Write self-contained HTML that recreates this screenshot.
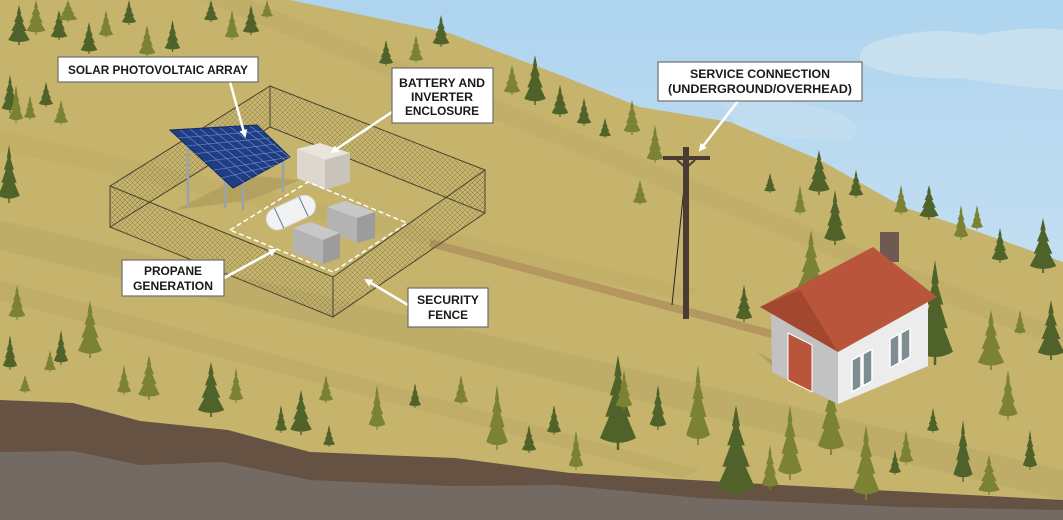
<!DOCTYPE html>
<html><head><meta charset="utf-8"><style>
html,body{margin:0;padding:0;width:1063px;height:520px;overflow:hidden;background:#c6b46c}
svg{display:block}
.lb{font-family:"Liberation Sans",sans-serif;font-weight:bold;font-size:12px;fill:#1a1a1a;text-anchor:middle}
</style></head><body>
<svg width="1063" height="520" viewBox="0 0 1063 520" xmlns="http://www.w3.org/2000/svg">
<defs>
<linearGradient id="sky" x1="0" y1="0" x2="0" y2="1"><stop offset="0" stop-color="#aed4ef"/><stop offset="1" stop-color="#d7e9f4"/></linearGradient>
<symbol id="t" viewBox="0 0 20 40" preserveAspectRatio="none" overflow="visible"><path d="M10 0 L12.5 9 L11.5 9 L15.5 17 L13.5 17 L18.5 26 L16 26 L22 35 Q10 39 -2 35 L4 26 L1.5 26 L6.5 17 L4.5 17 L8.5 9 L7.5 9 Z M9.2 35 L10.8 35 L10.8 40 L9.2 40 Z"/></symbol>
<pattern id="mesh" width="5" height="5" patternUnits="userSpaceOnUse"><path d="M0 0L5 5M5 0L0 5" stroke="#6b6140" stroke-width="0.5" opacity="0.6"/></pattern>
<marker id="ah" markerWidth="8" markerHeight="8" refX="6" refY="4" orient="auto" markerUnits="userSpaceOnUse"><path d="M0 0L8 4L0 8Z" fill="#fff"/></marker>
</defs>
<rect width="1063" height="520" fill="url(#sky)"/>
<path d="M880 40 Q930 25 980 35 Q1030 25 1063 30 L1063 90 Q1000 85 960 78 Q900 80 865 65 Q850 50 880 40Z" fill="#cde2ee" opacity="0.8"/>
<path d="M720 100 Q780 95 830 110 Q870 125 850 140 Q790 140 740 130Z" fill="#c8dfee" opacity="0.6"/>
<path d="M290 0 L449 33 L560 75 L640 107 L730 122 L820 160 L903 207 L973 230 L1063 262 L1063 520 L0 520 L0 0Z" fill="#c6b46c"/>
<path d="M0 220 L1063 470 L1063 500 L0 250Z" fill="#bba966" opacity="0.7"/>
<path d="M0 280 L700 470 L680 478 L0 300Z" fill="#bba966" opacity="0.6"/>
<path d="M250 0 L1063 330 L1063 350 L200 0Z" fill="#bba966" opacity="0.45"/>
<path d="M0 130 L700 290 L680 300 L0 150Z" fill="#bba966" opacity="0.4"/>
<path d="M0 400 L73 403 L140 421 L228 430 L310 452 L455 458 L570 473 L780 485 L1063 500 L1063 520 L0 520Z" fill="#655243"/>
<path d="M0 452 L73 451 L140 465 L222 462 L310 480 L450 486 L560 485 L700 498 L900 507 L1063 510 L1063 520 L0 520Z" fill="#736a63"/>
<path d="M430 243 L772 334" stroke="#b39660" stroke-width="8" fill="none"/>
<g id="trees">
<g fill="#4f6229">
<use href="#t" x="10" y="5" width="18" height="40"/><use href="#t" x="52" y="10" width="14" height="30"/><use href="#t" x="82" y="22" width="14" height="32"/><use href="#t" x="123" y="0" width="12" height="25"/><use href="#t" x="166" y="20" width="13" height="32"/><use href="#t" x="205" y="0" width="12" height="22"/><use href="#t" x="244" y="5" width="14" height="30"/><use href="#t" x="3" y="75" width="14" height="38"/><use href="#t" x="40" y="82" width="12" height="25"/><use href="#t" x="0" y="145" width="18" height="58"/><use href="#t" x="380" y="40" width="12" height="26"/><use href="#t" x="434" y="15" width="14" height="32"/><use href="#t" x="526" y="55" width="18" height="50"/><use href="#t" x="553" y="85" width="14" height="32"/><use href="#t" x="578" y="98" width="12" height="28"/><use href="#t" x="600" y="118" width="10" height="20"/><use href="#t" x="765" y="173" width="10" height="20"/><use href="#t" x="810" y="150" width="18" height="45"/><use href="#t" x="826" y="190" width="18" height="55"/><use href="#t" x="850" y="170" width="12" height="28"/><use href="#t" x="921" y="185" width="16" height="35"/><use href="#t" x="993" y="228" width="14" height="35"/><use href="#t" x="1032" y="218" width="22" height="55"/><use href="#t" x="737" y="285" width="14" height="37"/><use href="#t" x="920" y="260" width="30" height="105"/><use href="#t" x="1040" y="300" width="22" height="60"/><use href="#t" x="4" y="335" width="12" height="35"/><use href="#t" x="55" y="330" width="12" height="35"/><use href="#t" x="200" y="362" width="22" height="55"/><use href="#t" x="292" y="390" width="18" height="45"/><use href="#t" x="276" y="405" width="10" height="28"/><use href="#t" x="324" y="425" width="10" height="22"/><use href="#t" x="410" y="383" width="10" height="25"/><use href="#t" x="523" y="425" width="12" height="28"/><use href="#t" x="548" y="405" width="12" height="30"/><use href="#t" x="603" y="355" width="30" height="95"/><use href="#t" x="651" y="385" width="14" height="45"/><use href="#t" x="720" y="405" width="32" height="95"/><use href="#t" x="928" y="408" width="10" height="25"/><use href="#t" x="955" y="420" width="16" height="62"/><use href="#t" x="1024" y="430" width="12" height="40"/><use href="#t" x="890" y="450" width="10" height="25"/>
</g>
<g fill="#7c8233">
<use href="#t" x="28" y="0" width="16" height="35"/><use href="#t" x="60" y="0" width="16" height="22"/><use href="#t" x="100" y="10" width="12" height="28"/><use href="#t" x="140" y="25" width="14" height="32"/><use href="#t" x="226" y="10" width="12" height="30"/><use href="#t" x="262" y="0" width="10" height="18"/><use href="#t" x="10" y="85" width="12" height="38"/><use href="#t" x="25" y="95" width="10" height="25"/><use href="#t" x="55" y="100" width="12" height="25"/><use href="#t" x="410" y="35" width="12" height="28"/><use href="#t" x="455" y="80" width="10" height="20"/><use href="#t" x="505" y="65" width="14" height="30"/><use href="#t" x="625" y="100" width="14" height="35"/><use href="#t" x="648" y="125" width="14" height="38"/><use href="#t" x="634" y="180" width="12" height="25"/><use href="#t" x="795" y="185" width="10" height="30"/><use href="#t" x="895" y="185" width="12" height="30"/><use href="#t" x="955" y="205" width="12" height="35"/><use href="#t" x="972" y="205" width="10" height="25"/><use href="#t" x="800" y="230" width="22" height="65"/><use href="#t" x="980" y="310" width="22" height="60"/><use href="#t" x="1015" y="310" width="10" height="25"/><use href="#t" x="10" y="285" width="14" height="35"/><use href="#t" x="80" y="300" width="20" height="58"/><use href="#t" x="45" y="350" width="10" height="22"/><use href="#t" x="140" y="355" width="18" height="45"/><use href="#t" x="20" y="375" width="10" height="18"/><use href="#t" x="118" y="365" width="12" height="30"/><use href="#t" x="230" y="368" width="12" height="35"/><use href="#t" x="320" y="375" width="12" height="28"/><use href="#t" x="370" y="385" width="14" height="45"/><use href="#t" x="455" y="375" width="12" height="30"/><use href="#t" x="488" y="385" width="18" height="65"/><use href="#t" x="570" y="430" width="12" height="40"/><use href="#t" x="617" y="370" width="14" height="40"/><use href="#t" x="688" y="365" width="20" height="80"/><use href="#t" x="763" y="445" width="14" height="45"/><use href="#t" x="780" y="405" width="20" height="75"/><use href="#t" x="820" y="380" width="22" height="75"/><use href="#t" x="855" y="425" width="22" height="75"/><use href="#t" x="900" y="430" width="12" height="35"/><use href="#t" x="980" y="455" width="18" height="40"/><use href="#t" x="1000" y="370" width="16" height="50"/>
</g>
</g>
<path d="M110 186 L270 86 L270 127 L110 227Z" fill="url(#mesh)" stroke="#4a4530" stroke-width="1"/>
<path d="M270 86 L485 170 L485 213 L270 127Z" fill="url(#mesh)" stroke="#4a4530" stroke-width="1"/>
<path d="M175 210 L250 200 L300 180 L245 175Z" fill="#a89858" opacity="0.6"/>
<g stroke="#9aa2aa" stroke-width="2.5"><line x1="188" y1="145" x2="188" y2="208"/><line x1="225" y1="170" x2="225" y2="208"/><line x1="243" y1="178" x2="243" y2="210"/><line x1="283" y1="153" x2="283" y2="192"/></g>
<path d="M170 130 L257 125 L290 157 L233 188Z" fill="#1f3d85" stroke="#142a5e"/>
<g stroke="#8fa7d6" stroke-width="0.6" opacity="0.8">
<path d="M178 138L263 131M186 146L270 138M193 154L276 144M201 162L283 151M209 171L290 157M217 179L276 165"/>
<path d="M180 130L245 183M190 129L252 179M200 129L259 176M210 128L266 172M220 128L272 168M230 127L279 164M240 126L285 160M250 126L289 157"/>
</g>
<path d="M297 149 L320 143 L350 153 L325 160Z" fill="#e8e5dd"/>
<path d="M297 149 L325 160 L325 190 L297 178Z" fill="#dcd8ce"/>
<path d="M325 160 L350 153 L350 182 L325 190Z" fill="#c8c4ba"/>
<path d="M230 230 L308 182 L407 223 L333 272Z" fill="none" stroke="#fff" stroke-width="1.5" stroke-dasharray="5,3"/>
<g transform="rotate(-25 290 213)"><rect x="265" y="202" width="52" height="22" rx="11" fill="#f2f2f2" stroke="#d6d6d6"/><line x1="278" y1="202" x2="278" y2="224" stroke="#5a7ba0"/><line x1="305" y1="202" x2="305" y2="224" stroke="#5a7ba0"/></g>
<path d="M327 207 L345 201 L375 212 L357 218Z" fill="#c8c8c8"/><path d="M327 207 L357 218 L357 243 L327 230Z" fill="#b3b3b3"/><path d="M357 218 L375 212 L375 238 L357 243Z" fill="#9c9c9c"/>
<path d="M293 228 L310 222 L340 233 L323 240Z" fill="#c8c8c8"/><path d="M293 228 L323 240 L323 264 L293 252Z" fill="#b3b3b3"/><path d="M323 240 L340 233 L340 258 L323 264Z" fill="#9c9c9c"/>
<path d="M110 186 L333 277 L333 317 L110 227Z" fill="url(#mesh)" stroke="#4a4530" stroke-width="1"/>
<path d="M333 277 L485 170 L485 213 L333 317Z" fill="url(#mesh)" stroke="#4a4530" stroke-width="1"/>
<line x1="686" y1="168" x2="672" y2="305" stroke="#2b241f" stroke-width="1"/>
<rect x="683" y="147" width="6" height="172" fill="#4a3c33"/>
<rect x="663" y="156" width="47" height="4" fill="#4a3c33"/>
<path d="M677 160 L686 168 L695 160" stroke="#4a3c33" stroke-width="2" fill="none"/>
<!-- house -->
<path d="M757 352 L788 380 L840 405 L810 380Z" fill="#a99a5e" opacity="0.8"/>
<path d="M771 308 L800 290 L838 350 L838 404 L772 372Z" fill="#c2c2c2"/>
<path d="M838 350 L928 300 L928 366 L838 404Z" fill="#ececec"/>
<path d="M788 333 L812 345 L812 392 L788 380Z" fill="#b8553a" stroke="#fff" stroke-width="1"/>
<g fill="#7e8d90" stroke="#fff" stroke-width="1.5"><path d="M852 360 L861 355 L861 387 L852 392Z"/><path d="M863 354 L872 349 L872 381 L863 386Z"/><path d="M890 339 L899 334 L899 363 L890 368Z"/><path d="M901 333 L910 328 L910 357 L901 362Z"/></g>
<rect x="880" y="232" width="19" height="30" fill="#6e5a52"/>
<path d="M760 307 L873 247 L937 297 L838 352Z" fill="#b8553a"/>
<path d="M760 307 L800 290 L838 352Z" fill="#963d28" opacity="0.6"/>
<g stroke="#fff" stroke-width="2.5" fill="none" marker-end="url(#ah)">
<line x1="230" y1="82" x2="245" y2="136"/><line x1="395" y1="110" x2="332" y2="152"/><line x1="224" y1="278" x2="275" y2="250"/><line x1="408" y1="305" x2="366" y2="280"/><line x1="738" y1="101" x2="700" y2="150"/>
</g>
<g fill="#fff" stroke="#6d6d6d" stroke-width="1.2">
<rect x="58" y="57" width="200" height="25"/><rect x="392" y="68" width="101" height="55"/><rect x="122" y="260" width="102" height="36"/><rect x="408" y="288" width="80" height="39"/><rect x="658" y="62" width="204" height="39"/>
</g>
<text class="lb" x="158" y="74" textLength="180" lengthAdjust="spacingAndGlyphs">SOLAR PHOTOVOLTAIC ARRAY</text>
<text class="lb" x="442" y="87" textLength="86" lengthAdjust="spacingAndGlyphs">BATTERY AND</text><text class="lb" x="442" y="101" textLength="62" lengthAdjust="spacingAndGlyphs">INVERTER</text><text class="lb" x="442" y="115" textLength="74" lengthAdjust="spacingAndGlyphs">ENCLOSURE</text>
<text class="lb" x="173" y="275" textLength="58" lengthAdjust="spacingAndGlyphs">PROPANE</text><text class="lb" x="173" y="290" textLength="80" lengthAdjust="spacingAndGlyphs">GENERATION</text>
<text class="lb" x="448" y="304" textLength="62" lengthAdjust="spacingAndGlyphs">SECURITY</text><text class="lb" x="448" y="319" textLength="40" lengthAdjust="spacingAndGlyphs">FENCE</text>
<text class="lb" x="760" y="78" textLength="140" lengthAdjust="spacingAndGlyphs">SERVICE CONNECTION</text><text class="lb" x="760" y="93" textLength="184" lengthAdjust="spacingAndGlyphs">(UNDERGROUND/OVERHEAD)</text>
</svg>
</body></html>
